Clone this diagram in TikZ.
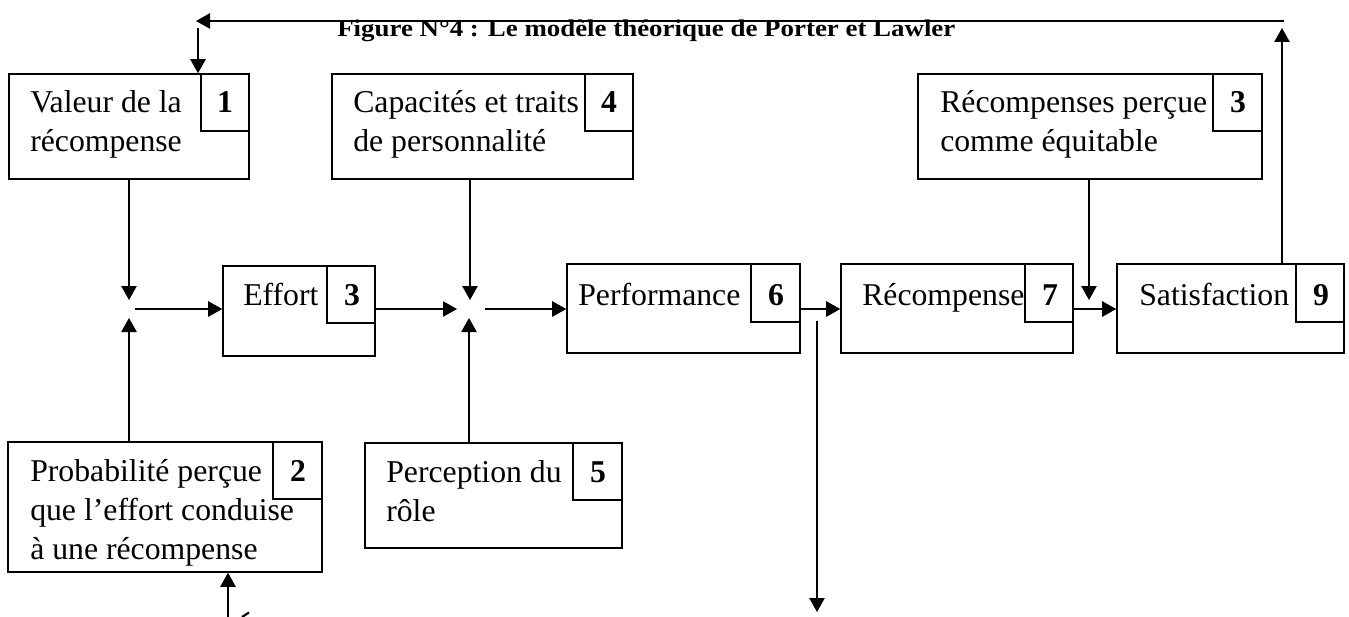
\documentclass[tikz,border=0pt]{standalone}
\usepackage{graphicx}
\usepackage{fontspec}
\setmainfont{Liberation Serif}
\usetikzlibrary{fit,arrows.meta}
\newcommand\boxfont{\fontsize{23.8pt}{29.25pt}\selectfont}
\begin{document}
\begin{tikzpicture}[x=0.75pt,y=-0.75pt,
  box/.style={draw,line width=1.15pt,inner sep=0pt},
  digit/.style={anchor=base,inner sep=0pt,font=\boxfont\bfseries},
  lbl/.style={anchor=base west,inner sep=0pt,font=\boxfont},
  arr/.style={line width=1.15pt,-{Triangle[length=10.5pt,width=11.5pt]}}]
\useasboundingbox (0,0) rectangle (1349,617);

% title
\node[anchor=base west,inner sep=0pt] (title) at (337,37)
  {\resizebox{463.5pt}{12.5pt}{\bfseries Figure N°4 : Le modèle théorique de Porter et Lawler}};

% top row
\node[box,fit={(9,74)(249,179)}] (val) {};
\node[box,fit={(201,74)(249,131)}] (n1) {};
\node[digit] (d1) at (225,113) {1};
\node[lbl] (tval) at (30,113) {\begin{tabular}[t]{@{}l@{}}Valeur de la\\récompense\end{tabular}};

\node[box,fit={(332,74)(633,179)}] (cap) {};
\node[box,fit={(585,74)(633,131)}] (n4) {};
\node[digit] (d4) at (609,113) {4};
\node[lbl] (tcap) at (353,113) {\begin{tabular}[t]{@{}l@{}}Capacités et traits\\de personnalité\end{tabular}};

\node[box,fit={(918,74)(1262,179)}] (equ) {};
\node[box,fit={(1213,74)(1262,131)}] (n3b) {};
\node[digit] (d3b) at (1238,113) {3};
\node[lbl] (tequ) at (940,113) {\begin{tabular}[t]{@{}l@{}}Récompenses perçue\\comme équitable\end{tabular}};

% middle row
\node[box,fit={(223,266)(375,356)}] (eff) {};
\node[box,fit={(327,266)(375,323)}] (n3) {};
\node[digit] (d3) at (352,305) {3};
\node[lbl] (teff) at (243,305) {Effort};

\node[box,fit={(567,264)(800,353)}] (perf) {};
\node[box,fit={(751,264)(800,322)}] (n6) {};
\node[digit] (d6) at (776,305) {6};
\node[lbl] (tperf) at (578,305) {Performance};

\node[box,fit={(841,264)(1073,353)}] (rec) {};
\node[box,fit={(1025,264)(1073,322)}] (n7) {};
\node[digit] (d7) at (1050,305) {7};
\node[lbl] (trec) at (862,305) {Récompense};

\node[box,fit={(1117,264)(1344,353)}] (sat) {};
\node[box,fit={(1296,264)(1344,322)}] (n9) {};
\node[digit] (d9) at (1321,305) {9};
\node[lbl] (tsat) at (1139,305) {Satisfaction};

% bottom row
\node[box,fit={(8,442)(322,572)}] (prob) {};
\node[box,fit={(273,442)(322,499)}] (n2) {};
\node[digit] (d2) at (298,481) {2};
\node[lbl] (tprob) at (30,481) {\begin{tabular}[t]{@{}l@{}}Probabilité perçue\\que l’effort conduise\\à une récompense\end{tabular}};

\node[box,fit={(365,443)(622,548)}] (perc) {};
\node[box,fit={(573,443)(622,500)}] (n5) {};
\node[digit] (d5) at (598,482) {5};
\node[lbl] (tperc) at (386,482) {\begin{tabular}[t]{@{}l@{}}Perception du\\rôle\end{tabular}};

% feedback loop along the top
\coordinate (tr) at (1284,21);
\coordinate (tl) at (196,21);
\coordinate (dn) at (198,28);
\coordinate (up) at (1282,28);
\draw[arr] (tr) -- (tl);
\draw[arr] (dn) -- (dn |- val.north);
\draw[arr] (sat.north -| up) -- (up);

% first junction
\coordinate (j1t) at (129,300);
\coordinate (j1b) at (129,318);
\coordinate (j1o) at (135,309);
\draw[arr] (val.south -| j1t) -- (j1t);
\draw[arr] (prob.north -| j1b) -- (j1b);
\draw[arr] (j1o) -- (eff.west |- j1o);

% second junction
\coordinate (j2i) at (457,309);
\coordinate (j2t) at (470,300);
\coordinate (j2b) at (469,318);
\coordinate (j2o) at (485,309);
\draw[arr] (eff.east |- j2i) -- (j2i);
\draw[arr] (cap.south -| j2t) -- (j2t);
\draw[arr] (perc.north -| j2b) -- (j2b);
\draw[arr] (j2o) -- (perf.west |- j2o);

% right part of the chain
\draw[arr] (perf.east |- j2o) -- (rec.west |- j2o);
\draw[arr] (rec.east |- j2o) -- (sat.west |- j2o);
\coordinate (eqt) at (1089,300);
\draw[arr] (equ.south -| eqt) -- (eqt);

% loose branches at the bottom
\coordinate (fb) at (817,321);
\coordinate (fe) at (817,612);
\draw[arr] (fb) -- (fe);
\coordinate (bl) at (228,617);
\draw[arr] (bl) -- (prob.south -| bl);
\coordinate (ka) at (242,617);
\coordinate (kb) at (249,612.5);
\draw[line width=1.6pt] (ka) -- (kb);
\end{tikzpicture}
\end{document}
